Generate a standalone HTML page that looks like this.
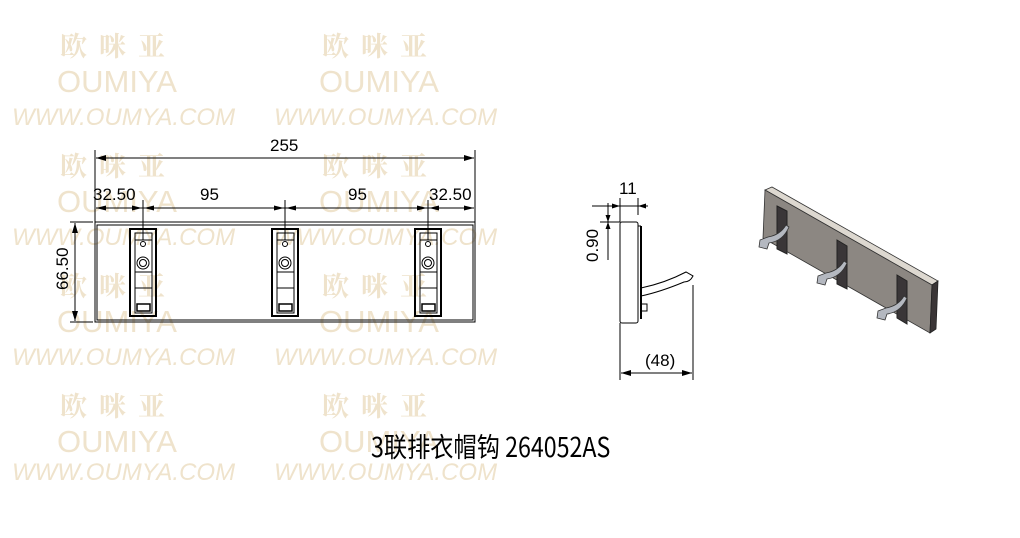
<!DOCTYPE html>
<html><head><meta charset="utf-8"><style>
body{margin:0;background:#fff;width:1020px;height:538px;overflow:hidden}
svg{display:block}
.wc{font-family:"Noto Serif CJK SC","WenQuanYi Zen Hei",serif;font-size:27px;font-weight:bold;fill:#efe3cc;letter-spacing:12px}
.wo{font-family:"Liberation Sans",sans-serif;font-size:31px;fill:#efe3cc}
.ww{font-family:"Liberation Sans",sans-serif;font-size:24px;font-style:italic;fill:#efe3cc}
.d{font-family:"Liberation Sans Narrow","Liberation Sans",sans-serif;font-size:17px;fill:#000}
</style></head><body>
<svg width="1020" height="538" viewBox="0 0 1020 538" xmlns="http://www.w3.org/2000/svg">
<defs>
<marker id="a" viewBox="0 0 10 6" refX="10" refY="3" markerWidth="10" markerHeight="6" orient="auto-start-reverse"><path d="M0,0L10,3L0,6z" fill="#000"/></marker>
</defs>
<g>
<text class="wc" x="60" y="56">欧咪亚</text><text class="wc" x="322" y="56">欧咪亚</text>
<text class="wo" x="57" y="92">OUMIYA</text><text class="wo" x="319" y="92">OUMIYA</text>
<text class="ww" x="12" y="125">WWW.OUMYA.COM</text><text class="ww" x="274" y="125">WWW.OUMYA.COM</text>
<text class="wc" x="60" y="176">欧咪亚</text><text class="wc" x="322" y="176">欧咪亚</text>
<text class="wo" x="57" y="212">OUMIYA</text><text class="wo" x="319" y="212">OUMIYA</text>
<text class="ww" x="12" y="245">WWW.OUMYA.COM</text><text class="ww" x="274" y="245">WWW.OUMYA.COM</text>
<text class="wc" x="60" y="296">欧咪亚</text><text class="wc" x="322" y="296">欧咪亚</text>
<text class="wo" x="57" y="332">OUMIYA</text><text class="wo" x="319" y="332">OUMIYA</text>
<text class="ww" x="12" y="365">WWW.OUMYA.COM</text><text class="ww" x="274" y="365">WWW.OUMYA.COM</text>
<text class="wc" x="60" y="416">欧咪亚</text><text class="wc" x="322" y="416">欧咪亚</text>
<text class="wo" x="57" y="452">OUMIYA</text><text class="wo" x="319" y="452">OUMIYA</text>
<text class="ww" x="12" y="480">WWW.OUMYA.COM</text><text class="ww" x="274" y="480">WWW.OUMYA.COM</text>
</g>
<g stroke="#000" fill="none" stroke-width="1">
<rect x="95" y="222" width="380" height="100"/>
<rect x="97" y="225" width="376" height="95"/>
<line x1="95" y1="150" x2="95" y2="222"/><line x1="475" y1="150" x2="475" y2="222"/>
<line x1="96" y1="158" x2="474" y2="158" marker-start="url(#a)" marker-end="url(#a)"/>
<line x1="96" y1="208" x2="474" y2="208"/>
<line x1="143" y1="200" x2="143" y2="240"/><line x1="285" y1="200" x2="285" y2="240"/><line x1="428" y1="200" x2="428" y2="240"/>
<line x1="70" y1="222" x2="93" y2="222"/><line x1="70" y1="322" x2="93" y2="322"/>
<line x1="75" y1="223" x2="75" y2="321" marker-start="url(#a)" marker-end="url(#a)"/>
</g>
<g fill="#000">
<path d="M96,208l10,-2.5v5z M142,208l-10,-2.5v5z M144,208l10,-2.5v5z M284,208l-10,-2.5v5z M286,208l10,-2.5v5z M427,208l-10,-2.5v5z M429,208l10,-2.5v5z M474,208l-10,-2.5v5z"/>
</g>
<g id="h" stroke="#000" fill="none">
<rect x="130" y="229" width="26" height="87" stroke-width="2"/>
<rect x="135" y="233" width="17" height="80"/>
<line x1="135" y1="240" x2="152" y2="240"/>
<circle cx="143" cy="244" r="2.5"/>
<circle cx="143" cy="263" r="6"/><circle cx="143" cy="263" r="3.5"/>
<line x1="135" y1="272" x2="152" y2="272"/><line x1="135" y1="288" x2="152" y2="288"/>
<rect x="137" y="304" width="13" height="7" stroke-width="1.5"/>
</g>
<use href="#h" x="142"/><use href="#h" x="285"/>
<text class="d" x="93" y="200">32.50</text>
<text class="d" x="200" y="200">95</text>
<text class="d" x="270" y="151">255</text>
<text class="d" x="348" y="200">95</text>
<text class="d" x="429" y="200">32.50</text>
<text class="d" transform="translate(68,290) rotate(-90)">66.50</text>
<g stroke="#000" fill="none">
<rect x="620" y="222" width="18" height="101" rx="2"/>
<line x1="638" y1="226" x2="641" y2="226"/><line x1="641" y1="226" x2="641" y2="319" stroke-width="2"/>
<path d="M641,288 Q665,283 686,272 L693,276 Q690,282 684,282 Q660,292 641,296"/>
<rect x="641" y="304" width="6" height="7"/>
<line x1="620" y1="198" x2="620" y2="222"/><line x1="638" y1="198" x2="638" y2="215"/>
<line x1="592" y1="206" x2="648" y2="206"/>
<line x1="600" y1="222" x2="620" y2="222"/>
<line x1="608" y1="203" x2="608" y2="260"/>
<line x1="620" y1="323" x2="620" y2="380"/><line x1="693" y1="285" x2="693" y2="380"/>
<line x1="621" y1="373" x2="692" y2="373" marker-start="url(#a)" marker-end="url(#a)"/>
</g>
<path d="M620,206l-8,-2.5v5z M638,206l8,-2.5v5z M608,222l-2.5,-7h5z M608,222l-2.5,7h5z" fill="#000"/>
<text class="d" x="619" y="194">11</text>
<text class="d" transform="translate(598,262) rotate(-90)">0.90</text>
<text class="d" x="645" y="366">(48)</text>
<polygon points="765,190 772,187 938,281 932,285" fill="#ddd8d0" stroke="#333" stroke-width="0.8"/>
<polygon points="765,190 932,285 930,333 763,238" fill="#8c8782" stroke="#333" stroke-width="0.8"/>
<polygon points="932,285 938,281 936,329 930,333" fill="#3a3536" stroke="#222" stroke-width="0.8"/>
<g fill="#3a3638" stroke="#222">
<polygon points="777,206 787,211 787,254 777,249"/>
<polygon points="837,240 847,246 847,289 837,284"/>
<polygon points="897,275 907,281 907,324 897,318"/>
</g>
<g fill="#b4b8c0" stroke="#333" stroke-width="0.8">
<path d="M760,240 l8,-3 q12,-2 18,-12 l3,2 q-6,14 -20,16 l-2,6 l-8,-2z"/>
<path d="M818,276 l8,-3 q12,-2 18,-12 l3,2 q-6,14 -20,16 l-2,6 l-8,-2z"/>
<path d="M878,311 l8,-3 q12,-2 18,-12 l3,2 q-6,14 -20,16 l-2,6 l-8,-2z"/>
</g>
<text x="371" y="457" font-family="'WenQuanYi Zen Hei','Noto Sans CJK SC',sans-serif" font-size="27" fill="#000" transform="translate(371,0) scale(0.86,1) translate(-371,0)">3联排衣帽钩 264052AS</text>
</svg>
</body></html>
